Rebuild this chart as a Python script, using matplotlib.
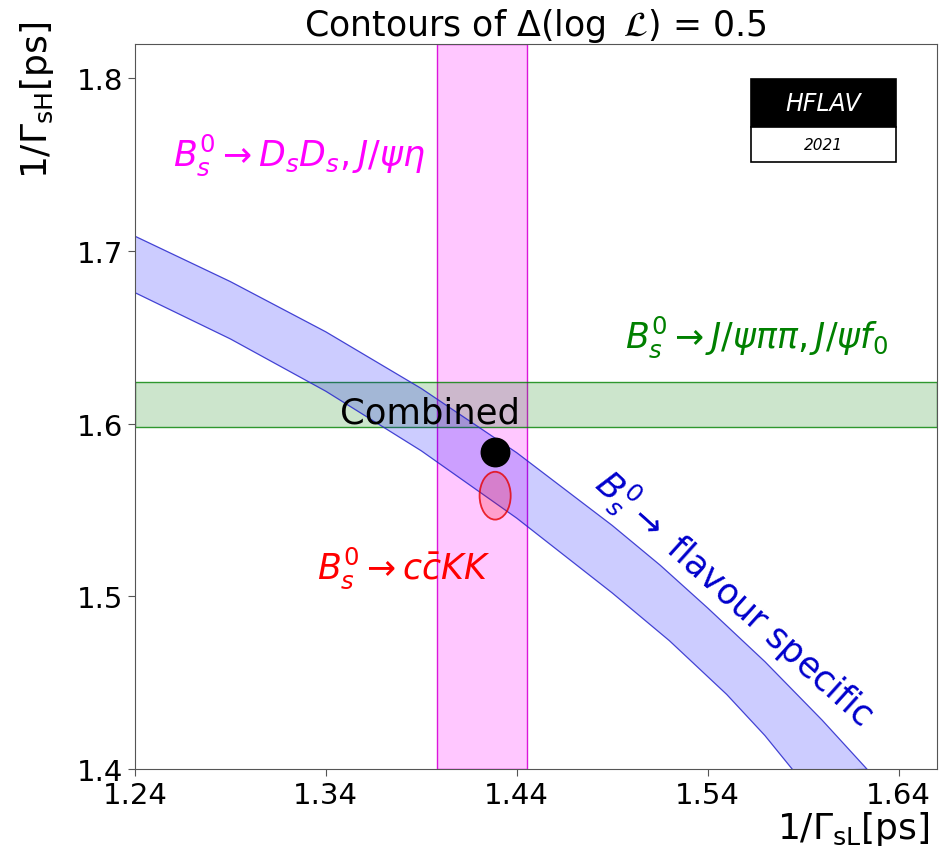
import numpy as np
import matplotlib
matplotlib.use('Agg')
import matplotlib.pyplot as plt
from matplotlib.patches import Ellipse, Rectangle

plt.rcParams['font.family'] = ['DejaVu Sans']
plt.rcParams['mathtext.fontset'] = 'dejavusans'

# flavour specific band, edges (1/Gamma_L, 1/Gamma_H)
fs_upper_x = [1.2400, 1.2900, 1.3400, 1.3900, 1.4400, 1.4900, 1.5152, 1.5400, 1.5700, 1.6000, 1.6236]
fs_upper_y = [1.7086, 1.6823, 1.6532, 1.6204, 1.5832, 1.5411, 1.5180, 1.4933, 1.4622, 1.4283, 1.3998]
fs_lower_x = [1.2400, 1.2900, 1.3400, 1.3900, 1.4400, 1.4900, 1.5200, 1.5500, 1.5700, 1.5850]
fs_lower_y = [1.6759, 1.6491, 1.6188, 1.5843, 1.5453, 1.5020, 1.4743, 1.4432, 1.4194, 1.3990]

# D_s D_s, J/psi eta  -> 1/Gamma_L range
dsds_range = [1.3982, 1.4453]
# J/psi pi pi, J/psi f0 -> 1/Gamma_H range
jpsipipi_range = [1.5980, 1.6240]
# c cbar K K ellipse: centre, full width, full height
cckk_centre = [1.4287, 1.5583]
cckk_size = [0.0163, 0.0277]
# combined result
combined = [1.4287, 1.5838]

xticks = [1.24, 1.34, 1.44, 1.54, 1.64]
yticks = [1.4, 1.5, 1.6, 1.7, 1.8]

fig = plt.figure(figsize=(9.5, 8.62), dpi=100)
ax = fig.add_axes([0.142, 0.1067, 0.844, 0.8413])

# blue band
poly_x = fs_upper_x + fs_lower_x[::-1]
poly_y = fs_upper_y + fs_lower_y[::-1]
ax.fill(poly_x, poly_y, facecolor=(0.0, 0.0, 1.0, 0.2), edgecolor=(0.15, 0.15, 0.8, 0.85), lw=0.9, zorder=2)

# magenta band
ax.axvspan(dsds_range[0], dsds_range[1], facecolor=(1.0, 0.0, 1.0, 0.22), edgecolor=(0.85, 0.0, 0.85, 0.9), lw=1.0, zorder=1)

# green band
ax.axhspan(jpsipipi_range[0], jpsipipi_range[1], facecolor=(0.0, 0.5, 0.0, 0.2), edgecolor=(0.0, 0.5, 0.0, 0.8), lw=1.0, zorder=1)

# red ellipse
ax.add_patch(Ellipse(cckk_centre, cckk_size[0], cckk_size[1], facecolor=(1.0, 0.0, 0.0, 0.2),
                     edgecolor=(0.9, 0.0, 0.0, 0.8), lw=1.3, zorder=3))

# combined
ax.plot(combined[0], combined[1], 'o', color='black', markersize=20.5, zorder=4)

ax.set_xlim(1.24, 1.66)
ax.set_ylim(1.4, 1.82)
ax.set_xticks(xticks)
ax.set_xticklabels(['%.2f' % v for v in xticks])
ax.set_yticks(yticks)
ax.set_yticklabels(['%.1f' % v for v in yticks])
ax.tick_params(labelsize=21, length=5, color='#555555')
for s in ax.spines.values():
    s.set_color('#555555')

ax.set_title(r'Contours of $\Delta(\log\ \mathcal{L})$ = 0.5', fontsize=25, pad=5)
ax.set_xlabel(r'1/$\Gamma_{\mathrm{sL}}$[ps]', fontsize=26, va='top')
ax.xaxis.set_label_coords(0.8965, -0.055)
ax.set_ylabel(r'1/$\Gamma_{\mathrm{sH}}$[ps]', fontsize=26)
ax.yaxis.set_label_coords(-0.098, 0.924)

ax.text(1.2599, 1.7560, r'$B_s^0 \rightarrow D_sD_s, J/\psi\eta$', color='magenta', fontsize=25, va='center', ha='left')
ax.text(1.4969, 1.6506, r'$B_s^0 \rightarrow J/\psi\pi\pi, J/\psi f_0$', color='green', fontsize=25, va='center', ha='left')
ax.text(1.3354, 1.5168, r'$B_s^0 \rightarrow c\bar{c}KK$', color='red', fontsize=25, va='center', ha='left')
ax.text(1.3475, 1.6009, 'Combined', color='black', fontsize=25.5, va='baseline', ha='left', zorder=5)
ax.text(1.5540, 1.4992, r'$B_s^0 \rightarrow$ flavour specific', color='#0000cc', fontsize=25,
        va='center', ha='center', rotation=-42, rotation_mode='anchor')

# HFLAV logo
ax.add_patch(Rectangle((0.769, 0.8855), 0.18, 0.0665, transform=ax.transAxes, facecolor='black',
                       edgecolor='black', lw=1.2, zorder=6))
ax.add_patch(Rectangle((0.769, 0.837), 0.18, 0.0485, transform=ax.transAxes, facecolor='white',
                       edgecolor='black', lw=1.2, zorder=6))
ax.text(0.859, 0.919, 'HFLAV', transform=ax.transAxes, color='white', fontsize=17, style='italic',
        ha='center', va='center', zorder=7)
ax.text(0.859, 0.861, '2021', transform=ax.transAxes, color='black', fontsize=11, style='italic',
        ha='center', va='center', zorder=7)

fig.savefig('out.png', dpi=100)
